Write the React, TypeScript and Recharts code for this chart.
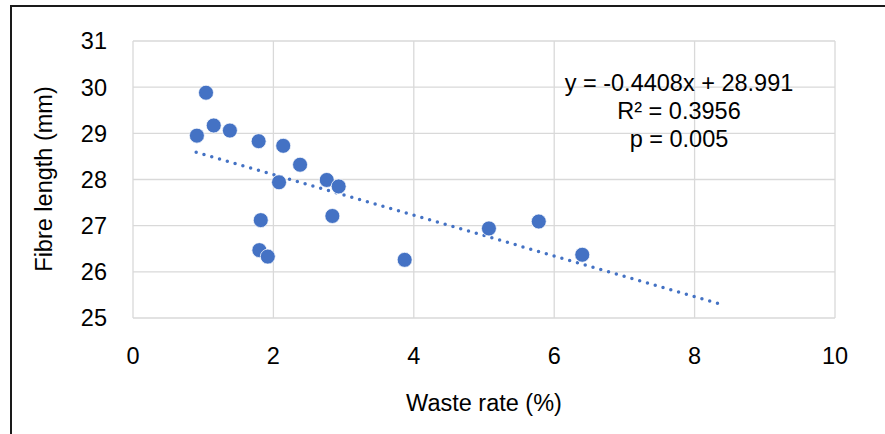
import React from "react";
import {
  ScatterChart,
  Scatter,
  XAxis,
  YAxis,
  CartesianGrid,
  ReferenceLine,
  Customized,
} from "recharts";

// waste rate (%) vs fibre length (mm)
const wasteRate = [1.04, 1.15, 0.91, 1.38, 1.79, 2.14, 2.38, 2.08, 2.76, 2.93, 1.82, 2.84, 1.8, 1.92, 3.87, 5.07, 5.78, 6.4];
const fibreLength = [29.88, 29.17, 28.95, 29.06, 28.83, 28.73, 28.32, 27.94, 27.99, 27.85, 27.12, 27.21, 26.47, 26.33, 26.26, 26.94, 27.09, 26.37];

// linear trendline end points
const trendX = [0.9, 8.35];
const trendY = [28.59, 25.31];

const xTicks = [0, 2, 4, 6, 8, 10];
const yTicks = [25, 26, 27, 28, 29, 30, 31];

const equationLines = ["y = -0.4408x + 28.991", "R² = 0.3956", "p = 0.005"];

const FONT = "Arial, 'Liberation Sans', sans-serif";
const FS = 23.5;
const BLUE = "#4472C4";

const points = wasteRate.map((x, i) => ({ x, y: fibreLength[i] }));

const Dot = (props: any) => (
  <circle cx={props.cx} cy={props.cy} r={7.5} fill={BLUE} stroke="#ffffff" strokeWidth={0.75} />
);

const Equation = () => (
  <g>
    {equationLines.map((line, i) => (
      <text
        key={line}
        x={679}
        y={91 + i * 28}
        textAnchor="middle"
        fontFamily={FONT}
        fontSize={FS}
        fill="#000"
      >
        {line}
      </text>
    ))}
  </g>
);

const YTitle = () => (
  <text
    x={51.5}
    y={179}
    transform="rotate(-90 51.5 179)"
    textAnchor="middle"
    fontFamily={FONT}
    fontSize={FS}
    fill="#000"
  >
    Fibre length (mm)
  </text>
);

export default function App() {
  return (
    <div style={{ position: "absolute", left: 0, top: 0, width: 885, height: 434, background: "#fff" }}>
      <ScatterChart width={885} height={434} margin={{ top: 41, right: 50, bottom: 0, left: 0 }}>
        <CartesianGrid stroke="#d9d9d9" strokeWidth={1.3} />
        <XAxis
          type="number"
          dataKey="x"
          domain={[0, 10]}
          ticks={xTicks}
          height={116}
          axisLine={false}
          tickLine={false}
          tickSize={0}
          tickMargin={29}
          tick={{ fontSize: FS, fontFamily: FONT, fill: "#000" }}
          label={{
            value: "Waste rate (%)",
            position: "insideBottom",
            offset: 23,
            fontSize: FS,
            fontFamily: FONT,
            fill: "#000",
          }}
        />
        <YAxis
          type="number"
          dataKey="y"
          domain={[25, 31]}
          ticks={yTicks}
          width={133}
          axisLine={false}
          tickLine={false}
          tickSize={0}
          tickMargin={26}
          tick={{ fontSize: FS, fontFamily: FONT, fill: "#000" }}
        />
        <ReferenceLine
          segment={[
            { x: trendX[0], y: trendY[0] },
            { x: trendX[1], y: trendY[1] },
          ]}
          stroke={BLUE}
          strokeWidth={3.5}
          strokeDasharray="0 8.1"
          strokeLinecap="round"
          ifOverflow="visible"
        />
        <Scatter data={points} shape={Dot} isAnimationActive={false} />
        <Customized component={YTitle} />
        <Customized component={Equation} />
      </ScatterChart>
      <div
        style={{
          position: "absolute",
          left: 10,
          top: 5,
          width: 875,
          height: 429,
          boxSizing: "border-box",
          borderTop: "2px solid #1a1a1a",
          borderLeft: "2px solid #1a1a1a",
          pointerEvents: "none",
        }}
      />
    </div>
  );
}
